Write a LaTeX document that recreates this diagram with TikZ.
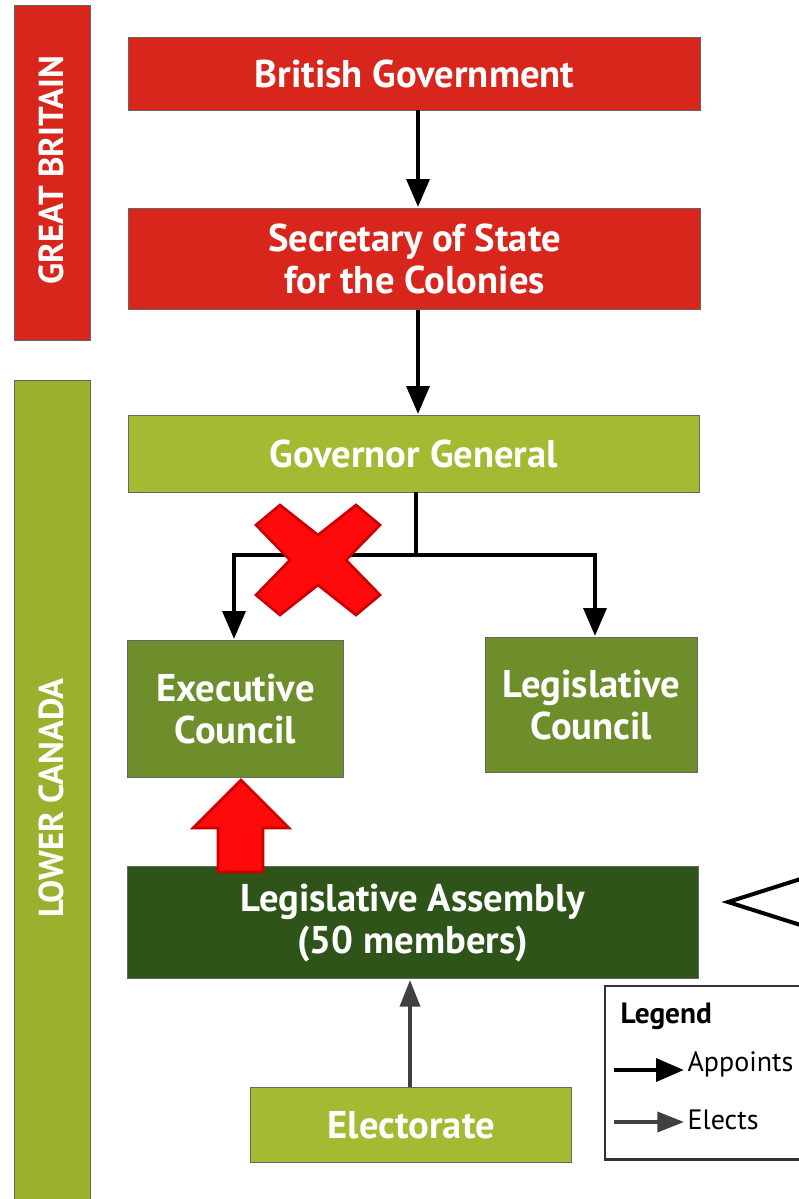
\documentclass[tikz,border=0pt]{standalone}
\usepackage{fontspec}
\setmainfont{PT Sans}
\usetikzlibrary{arrows.meta}
\definecolor{gbred}{HTML}{D8261D}
\definecolor{lgreen}{HTML}{A3BA33}
\definecolor{barGreen}{HTML}{9DB02E}
\definecolor{mgreen}{HTML}{6E8E2B}
\definecolor{dgreen}{HTML}{2E5419}
\definecolor{xred}{HTML}{FF0A0A}
\definecolor{xedge}{HTML}{CC0000}
\tikzset{
  box/.style={draw=black!60, line width=0.8pt, text=white, font=\bfseries\fontsize{29}{31.5}\selectfont, align=center, inner sep=0pt},
  appoint/.style={line width=3.4pt, -{Triangle[length=21pt,width=17pt]}},
  elect/.style={line width=2.8pt, draw=black!75, -{Triangle[length=20pt,width=15pt]}},
  bartext/.style={text=white, font=\bfseries\fontsize{26}{30}\selectfont, rotate=90},
}
\begin{document}
\begin{tikzpicture}[x=0.75pt,y=-0.75pt]
\useasboundingbox (0,0) rectangle (799,1199);
\fill[white] (0,0) rectangle (799,1199);
% side bars
\node[box, fill=gbred, minimum width=57pt, minimum height=251pt, anchor=north west] (gb) at (14,5) {};
\node[bartext] (gbt) at (51,170) {GREAT BRITAIN};
\node[box, fill=barGreen, minimum width=57pt, minimum height=614pt, anchor=north west] (lc) at (14,380) {};
\node[bartext] (lct) at (51,798) {LOWER CANADA};
% main boxes
\node[box, fill=gbred, minimum width=429pt, minimum height=55pt, anchor=north west] (bg) at (128,37) {British Government};
\node[box, fill=gbred, minimum width=429pt, minimum height=76pt, anchor=north west] (ss) at (128,208) {Secretary of State\\for the Colonies};
\node[box, fill=lgreen, minimum width=428pt, minimum height=58pt, anchor=north west] (gg) at (128,415) {Governor General};
\node[box, fill=mgreen, minimum width=162pt, minimum height=103pt, anchor=north west] (ec) at (127,640) {Executive\\Council};
\node[box, fill=mgreen, minimum width=159pt, minimum height=101pt, anchor=north west] (lcl) at (485,637) {Legislative\\Council};
\node[box, fill=dgreen, minimum width=428pt, minimum height=84pt, anchor=north west] (la) at (127,866) {Legislative Assembly\\(50 members)};
\node[box, fill=lgreen, minimum width=241pt, minimum height=56pt, anchor=north west] (el) at (250,1087) {Electorate};
% connectors
\draw[appoint] (418,110) -- (418,207);
\draw[appoint] (418,310) -- (418,414);
\coordinate (br) at (416,555);
\draw[line width=3.4pt] (416,492) -- (416,557);
\draw[appoint] (br) -- (234,555) -- (234,639);
\draw[appoint] (br) -- (595,555) -- (595,636);
\draw[elect] (410,1087) -- (410,980);
% red X
\begin{scope}[shift={(318,560)}]
\fill[xred, draw=xedge, line width=2pt] (-62,-35) -- (-38,-55) -- (0,-25) -- (38,-55) -- (62,-35) -- (28,0) -- (62,35) -- (38,55) -- (0,25) -- (-38,55) -- (-62,35) -- (-28,0) -- cycle;
\end{scope}
% red up arrow
\fill[xred, draw=xedge, line width=2pt] (218,872) -- (218,828) -- (193,828) -- (241,780) -- (289,828) -- (263,828) -- (263,872) -- cycle;
% partial bracket at right
\draw[line width=3pt] (810,876) -- (728,902) -- (810,928);
% legend
\node[draw=black!80, line width=1.8pt, fill=white, minimum width=160pt, minimum height=130pt, anchor=north west] (lg) at (604,985) {};
\node[anchor=west, font=\bfseries\fontsize{22}{24}\selectfont] (lgt) at (616,1016) {Legend};
\coordinate (a1) at (614,1070);
\coordinate (a2) at (684,1070);
\draw[appoint] (a1) -- (a2);
\node[anchor=west, font=\fontsize{21}{24}\selectfont, inner sep=1pt] (ap) at (686,1064) {Appoints};
\coordinate (e1) at (614,1122);
\coordinate (e2) at (684,1122);
\draw[elect] (e1) -- (e2);
\node[anchor=west, font=\fontsize{21}{24}\selectfont, inner sep=1pt] (elx) at (686,1120) {Elects};
\end{tikzpicture}
\end{document}
